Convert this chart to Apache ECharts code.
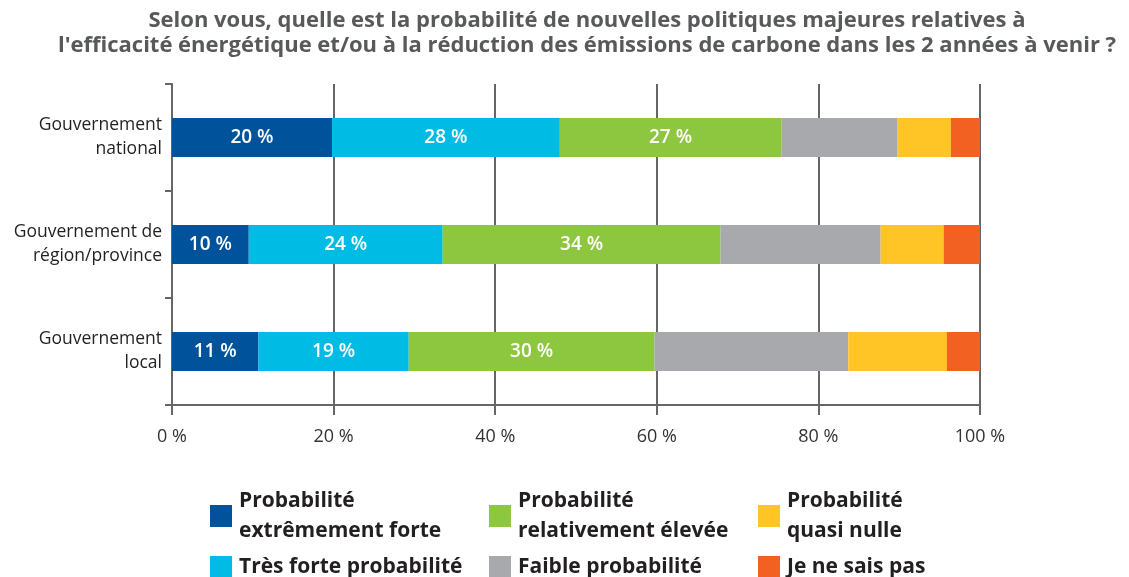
<!DOCTYPE html>
<html>
<head>
<meta charset="utf-8">
<script src="https://cdn.jsdelivr.net/npm/echarts@6/dist/echarts.min.js"></script>
<style>
html,body{margin:0;padding:0;background:#fff;}
#chart{width:1129px;height:577px;}
</style>
</head>
<body>
<div id="chart"></div>
<script>
const titleText = "Selon vous, quelle est la probabilité de nouvelles politiques majeures relatives à\nl'efficacité énergétique et/ou à la réduction des émissions de carbone dans les 2 années à venir ?";
const categories = ["Gouvernement\nnational", "Gouvernement de\nrégion/province", "Gouvernement\nlocal"];
const seriesNames = [
  "Probabilité\nextrêmement forte",
  "Très forte probabilité",
  "Probabilité\nrelativement élevée",
  "Faible probabilité",
  "Probabilité\nquasi nulle",
  "Je ne sais pas"
];
const extremementForte = [19.8, 9.5, 10.7];
const tresForte = [28.2, 24.0, 18.6];
const relativementElevee = [27.4, 34.4, 30.4];
const faible = [14.4, 19.8, 24.0];
const quasiNulle = [6.6, 7.8, 12.2];
const neSaisPas = [3.6, 4.5, 4.1];
const showLabels = [true, true, true, false, false, false];
const xTicks = [0, 20, 40, 60, 80, 100];
const colors = ["#00539B", "#00BCE4", "#8DC63F", "#A7A9AC", "#FFC425", "#F26122"];

const allValues = [extremementForte, tresForte, relativementElevee, faible, quasiNulle, neSaisPas];
const cats = categories.slice().reverse();

const chart = echarts.init(document.getElementById('chart'), null, {renderer: 'canvas'});
const series = allValues.map((vals, i) => ({
  name: seriesNames[i],
  type: 'bar',
  stack: 'total',
  barWidth: 39,
  itemStyle: {color: colors[i]},
  label: {
    show: showLabels[i],
    position: 'inside',
    color: '#fff',
    fontFamily: 'Open Sans',
    fontWeight: 600,
    fontSize: 19,
    formatter: p => Math.round(p.value) + ' %'
  },
  data: vals.slice().reverse()
}));

const legendBase = {
  orient: 'vertical',
  icon: 'rect',
  itemWidth: 22,
  itemHeight: 22,
  itemGap: 6,
  selectedMode: false,
  textStyle: {
    fontFamily: 'Open Sans',
    fontWeight: 'bold',
    fontSize: 21,
    color: '#231F20',
    lineHeight: 30,
    padding: [0, 0, 0, 2]
  }
};

chart.setOption({
  animation: false,
  backgroundColor: '#fff',
  graphic: [{
    type: 'text',
    x: 587,
    y: 8,
    style: {
      text: titleText,
      textAlign: 'center',
      textVerticalAlign: 'top',
      fontFamily: 'Open Sans',
      fontWeight: 'bold',
      fontSize: 22,
      lineHeight: 25,
      fill: '#58595B'
    }
  }],
  legend: [
    Object.assign({}, legendBase, {left: 205, top: 481, data: [seriesNames[0], seriesNames[1]]}),
    Object.assign({}, legendBase, {left: 484, top: 481, data: [seriesNames[2], seriesNames[3]]}),
    Object.assign({}, legendBase, {left: 753, top: 481, data: [seriesNames[4], seriesNames[5]]})
  ],
  grid: {left: 172, right: 149, top: 84, bottom: 172, containLabel: false},
  xAxis: {
    type: 'value',
    min: 0,
    max: 100,
    interval: 20,
    axisLine: {show: true, lineStyle: {color: '#666', width: 2}},
    axisTick: {show: true, length: 10, lineStyle: {color: '#666', width: 2}},
    splitLine: {show: true, lineStyle: {color: '#666', width: 2}},
    axisLabel: {
      margin: 23,
      fontFamily: 'Open Sans',
      fontSize: 18,
      color: '#333',
      formatter: v => xTicks.indexOf(v) >= 0 ? v + ' %' : ''
    }
  },
  yAxis: {
    type: 'category',
    data: cats,
    axisLine: {show: true, lineStyle: {color: '#666', width: 2}},
    axisTick: {show: true, length: 7, lineStyle: {color: '#666', width: 2}},
    axisLabel: {
      margin: 10,
      fontFamily: 'Open Sans',
      fontSize: 17.5,
      color: '#231F20',
      lineHeight: 24,
      align: 'right'
    }
  },
  series: series
});
</script>
</body>
</html>
